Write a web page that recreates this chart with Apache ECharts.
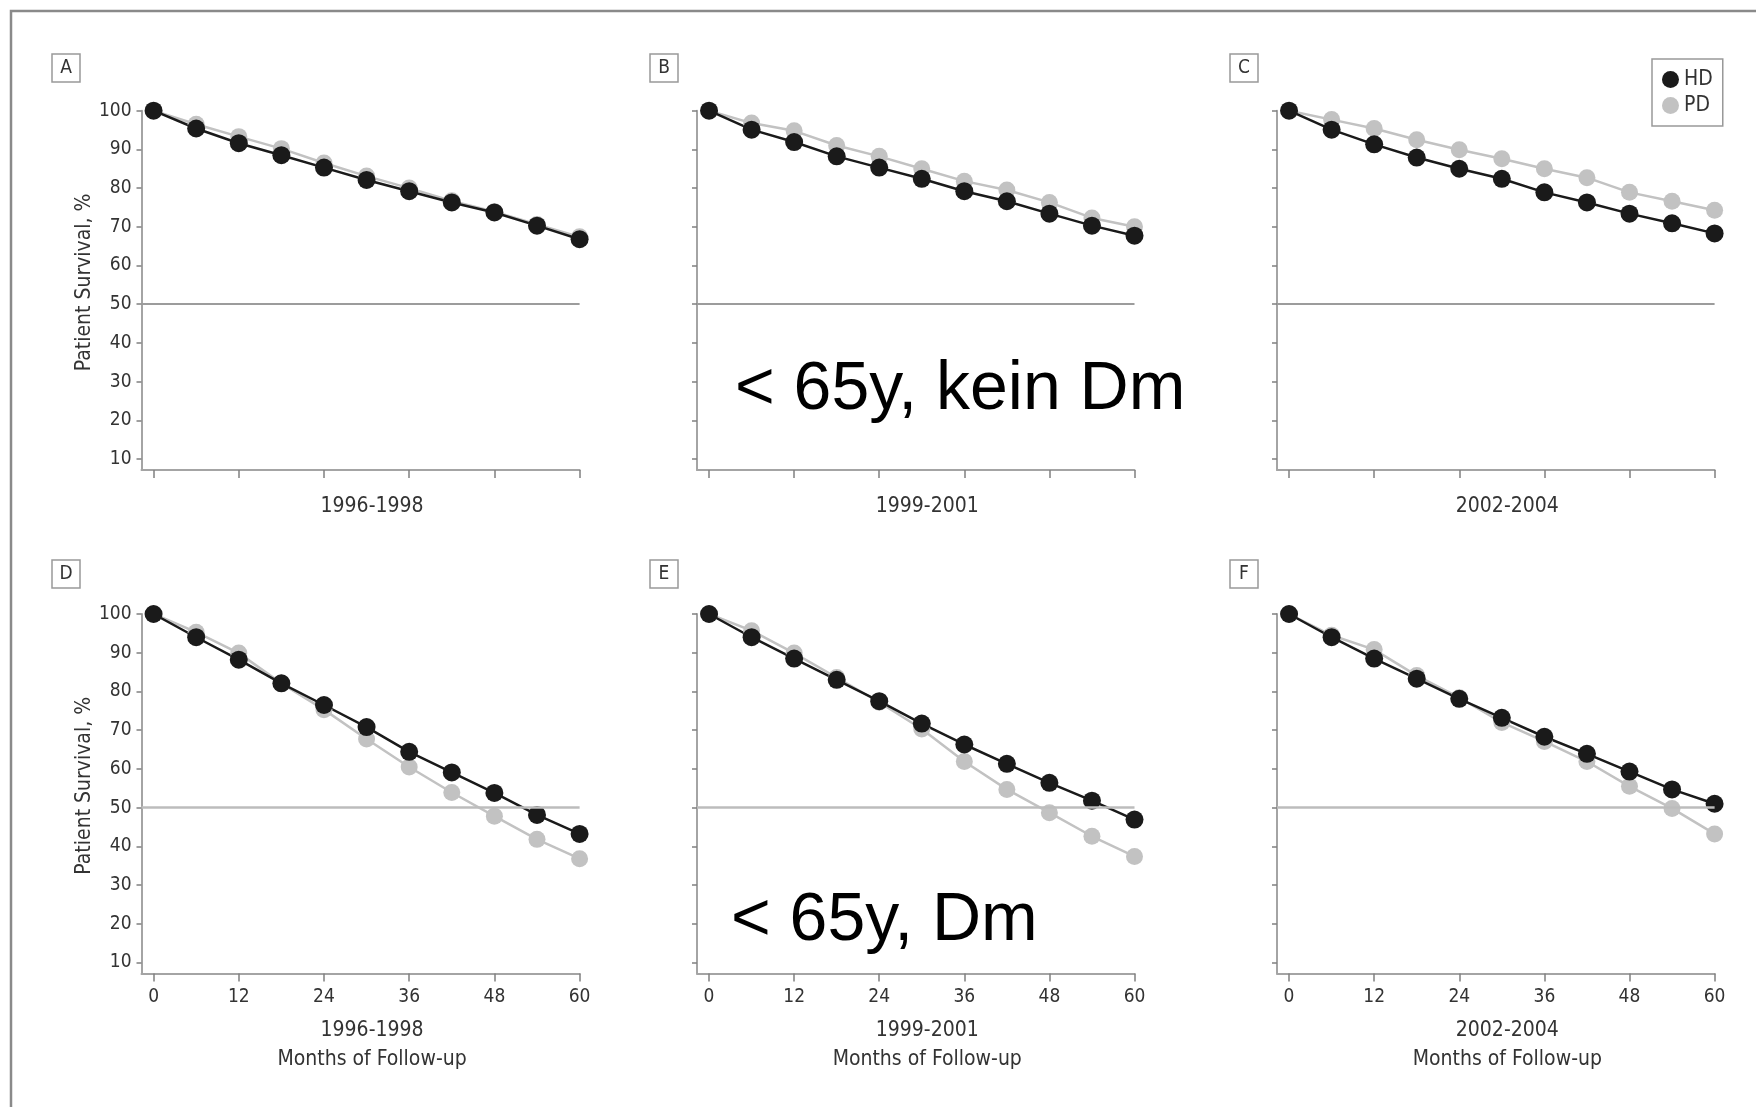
<!DOCTYPE html>
<html>
<head>
<meta charset="utf-8">
<script src="https://cdn.jsdelivr.net/npm/echarts@6/dist/echarts.min.js"></script>
<style>
  html, body { margin: 0; padding: 0; background: #fff; }
  #chart { width: 1756px; height: 1107px; }
</style>
</head>
<body>
<div id="chart"></div>
<script>
// months of follow-up
const months = [0, 6, 12, 18, 24, 30, 36, 42, 48, 54, 60];
const monthTicks = [0, 12, 24, 36, 48, 60];
const survivalTicks = [10, 20, 30, 40, 50, 60, 70, 80, 90, 100];
const periods = ['1996-1998', '1999-2001', '2002-2004'];
const panelLetters = ['A', 'B', 'C', 'D', 'E', 'F'];

// patient survival, %  (top row: < 65y, kein Dm)
const hdA = [100, 95.4, 91.6, 88.5, 85.3, 82.1, 79.2, 76.3, 73.7, 70.3, 66.8];
const pdA = [100, 96.5, 93.3, 90.2, 86.5, 83.1, 80.0, 76.7, 73.9, 70.6, 67.4];
const hdB = [100, 95.1, 91.9, 88.2, 85.3, 82.4, 79.2, 76.6, 73.4, 70.3, 67.7];
const pdB = [100, 96.8, 94.8, 91.0, 88.2, 85.0, 81.8, 79.5, 76.3, 72.3, 70.0];
const hdC = [100, 95.1, 91.3, 87.9, 85.0, 82.4, 78.9, 76.3, 73.4, 70.9, 68.3];
const pdC = [100, 97.7, 95.4, 92.5, 89.9, 87.6, 85.0, 82.7, 78.9, 76.6, 74.3];
// bottom row: < 65y, Dm
const hdD = [100, 94.0, 88.2, 82.1, 76.5, 70.8, 64.4, 59.1, 53.8, 48.1, 43.2];
const pdD = [100, 95.3, 89.9, 82.1, 75.3, 67.7, 60.5, 53.9, 47.8, 41.8, 36.8];
const hdE = [100, 94.0, 88.5, 83.0, 77.5, 71.7, 66.3, 61.3, 56.4, 51.8, 46.9];
const pdE = [100, 95.7, 89.9, 83.6, 77.2, 70.3, 61.9, 54.7, 48.7, 42.6, 37.4];
const hdF = [100, 94.0, 88.5, 83.3, 78.1, 73.2, 68.3, 63.9, 59.3, 54.7, 51.0];
const pdF = [100, 94.5, 90.8, 84.1, 78.4, 72.0, 67.1, 61.9, 55.5, 49.8, 43.2];

const hdAll = [hdA, hdB, hdC, hdD, hdE, hdF];
const pdAll = [pdA, pdB, pdC, pdD, pdE, pdF];

const NARROW = "'Liberation Sans Narrow', 'DejaVu Sans Condensed', 'Liberation Sans', sans-serif";
const TEXT = '#333';
const AXIS = '#a4a4a4';

// panel layout (px)
const colLeft = [141.5, 697, 1277];
const colRight = [579.6, 1134.5, 1714.6];
const rowTop = [110.7, 614];
const rowBottom = [470, 973.5];
const boxLeft = [52, 650, 1230];
const boxTop = [54, 560];

const chart = echarts.init(document.getElementById('chart'));

const grids = [], xAxes = [], yAxes = [], series = [], graphics = [];

// outer frame (cut off at right/bottom)
graphics.push({
  type: 'rect', shape: { x: 11, y: 11, width: 2000, height: 2000 },
  style: { fill: 'none', stroke: '#8a8a8a', lineWidth: 2.5 }, silent: true
});

for (let p = 0; p < 6; p++) {
  const row = Math.floor(p / 3), col = p % 3;
  const bottomRow = row === 1;
  grids.push({
    left: colLeft[col], top: rowTop[row],
    width: colRight[col] - colLeft[col], height: rowBottom[row] - rowTop[row],
    outerBoundsMode: 'none', containLabel: false
  });
  xAxes.push({
    gridIndex: p, type: 'value', min: -1.7, max: 60,
    name: bottomRow ? periods[col] + '\nMonths of Follow-up' : periods[col],
    nameLocation: 'middle', nameGap: bottomRow ? 43 : 22,
    nameTextStyle: { fontFamily: NARROW, fontSize: 21, color: TEXT, lineHeight: 29, padding: [0, 0, 0, 23] },
    axisLine: { show: true, onZero: false, lineStyle: { color: AXIS, width: 2 } },
    axisTick: { show: true, length: 8, customValues: monthTicks, lineStyle: { color: '#808080', width: 1.5 } },
    axisLabel: { show: bottomRow, customValues: monthTicks, margin: 14, fontFamily: NARROW, fontSize: 19, color: TEXT },
    splitLine: { show: false }
  });
  yAxes.push({
    gridIndex: p, type: 'value', min: 7.16, max: 100,
    name: col === 0 ? 'Patient Survival, %' : '',
    nameLocation: 'middle', nameGap: 34,
    nameTextStyle: { fontFamily: NARROW, fontSize: 21, color: TEXT, padding: [0, 0, 0, 16] },
    axisLine: { show: true, onZero: false, lineStyle: { color: AXIS, width: 2 } },
    axisTick: { show: true, length: 5, customValues: survivalTicks, lineStyle: { color: '#808080', width: 1.5 } },
    axisLabel: { show: col === 0, customValues: survivalTicks, margin: 10, fontFamily: NARROW, fontSize: 19, color: TEXT },
    splitLine: { show: false }
  });
  series.push({
    name: 'PD', type: 'line', xAxisIndex: p, yAxisIndex: p,
    data: months.map((m, i) => [m, pdAll[p][i]]),
    symbol: 'circle', symbolSize: 17,
    lineStyle: { color: '#c2c2c2', width: 2.5 },
    itemStyle: { color: '#c2c2c2' },
    markLine: {
      silent: true, symbol: ['none', 'none'], label: { show: false },
      lineStyle: { color: bottomRow ? '#bcbcbc' : '#9c9c9c', width: bottomRow ? 2.5 : 1.8, type: 'solid' },
      data: [{ yAxis: 50 }]
    }
  });
  series.push({
    name: 'HD', type: 'line', xAxisIndex: p, yAxisIndex: p,
    data: months.map((m, i) => [m, hdAll[p][i]]),
    symbol: 'circle', symbolSize: 18,
    lineStyle: { color: '#1a1a1a', width: 2.5 },
    itemStyle: { color: '#1a1a1a' }
  });
  // panel letter box
  graphics.push({
    type: 'rect', shape: { x: boxLeft[col], y: boxTop[row], width: 28, height: 28 },
    style: { fill: '#fff', stroke: '#999', lineWidth: 1.5 }, silent: true
  });
  graphics.push({
    type: 'text', x: boxLeft[col] + 14, y: boxTop[row] + 14.5,
    style: { text: panelLetters[p], font: '19px ' + NARROW, fill: TEXT, align: 'center', verticalAlign: 'middle' },
    silent: true
  });
}

// big annotations
graphics.push({
  type: 'text', x: 735, y: 390,
  style: { text: '< 65y, kein Dm', font: '68px "Liberation Sans", Arial, sans-serif', fill: '#000', align: 'left', verticalAlign: 'middle' },
  silent: true
});
graphics.push({
  type: 'text', x: 731, y: 921,
  style: { text: '< 65y, Dm', font: '68px "Liberation Sans", Arial, sans-serif', fill: '#000', align: 'left', verticalAlign: 'middle' },
  silent: true
});

chart.setOption({
  animation: false,
  backgroundColor: '#fff',
  legend: {
    data: ['HD', 'PD'], orient: 'vertical', left: 1652, top: 59,
    icon: 'circle', itemWidth: 17, itemHeight: 17, itemGap: 5,
    padding: [10, 10, 10, 10],
    borderColor: '#999', borderWidth: 1.5,
    textStyle: { fontFamily: NARROW, fontSize: 21, color: TEXT },
    selectedMode: false
  },
  grid: grids,
  xAxis: xAxes,
  yAxis: yAxes,
  series: series,
  graphic: graphics
});
</script>
</body>
</html>
